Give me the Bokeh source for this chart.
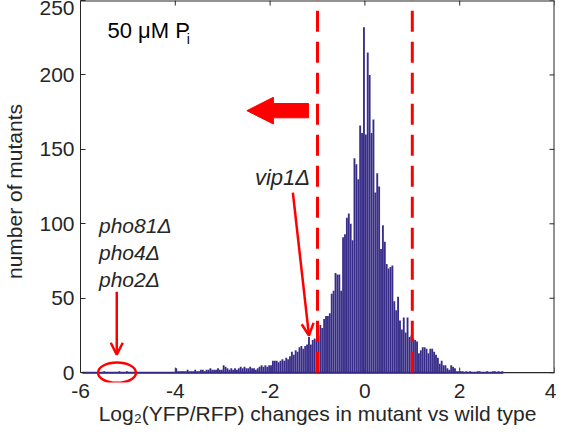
import numpy as np
from bokeh.plotting import figure
from bokeh.models import (Arrow, OpenHead, FixedTicker, Range1d, ColumnDataSource)
from bokeh.core.properties import value
from bokeh.embed import file_html
from bokeh.resources import INLINE

# ---------------- data ----------------
bin_start = -5.60
bin_width = 0.04
counts = (
    # -5.60 .. -5.00
    [0, 0, 1, 0, 0, 0, 0, 0, 0, 0, 1, 0, 0, 0, 1, 0]
    # -4.96 .. -4.04
    + [0] * 24
    # -4.00 .. -3.04
    + [3, 1, 1, 1, 1, 1, 2, 1, 1, 1, 2, 1, 1,
       2, 2, 1, 2, 2, 3, 2, 2, 2, 3, 2, 2]
    # -3.00 .. -2.00
    + [5, 4, 3, 2, 3, 2, 3, 2, 3, 4, 3, 4, 3, 3, 4, 3, 3, 2, 3, 4, 5, 4, 5, 4, 5, 5]
    # -1.96 .. -1.00
    + [8, 8, 8, 7, 8, 9, 8, 10, 9, 11, 14, 12, 15, 14, 17, 18, 16, 18, 19, 24,
       19, 22, 23, 22, 25]
    # -0.96 .. -0.04
    + [32, 30, 36, 38, 38, 40, 53, 55, 67, 66, 66, 55, 91, 93, 104, 107, 100, 89,
       144, 140, 130, 166, 161, 232]
    # 0.00 .. 0.96
    + [160, 215, 200, 161, 170, 121, 134, 125, 83, 99, 88, 73, 70, 71, 72, 48, 42,
       51, 35, 29, 37, 27, 37, 24, 25]
    # 1.00 .. 2.88
    + [23, 22, 21, 13, 15, 17, 17, 16, 13, 16, 16, 14, 12, 10, 6, 8, 5, 5, 3, 2,
       5, 4, 3, 1, 1, 1, 1, 0, 1, 0, 1, 0, 0, 0, 1, 1, 0, 0, 0, 1, 0, 0, 1, 1, 0,
       1, 0, 1]
)
hist_span = (-5.96, 2.92)
x_lo, x_hi = -6, 4
y_lo, y_hi = 0, 250
y_pad = -6.6            # room below zero for the circle annotation
x_ticks = [-6, -4, -2, 0, 2, 4]
y_ticks = [0, 50, 100, 150, 200, 250]
thresholds = [-1.0, 1.0]

# annotation geometry (data units)
title_pos = (-5.43, 230)
sub_pos = (-3.76, 224)
vip_label_pos = (-2.32, 131)
vip_arrow = (-1.52, 121, -1.18, 25)
pho_labels = ["pho81\u0394", "pho4\u0394", "pho2\u0394"]
pho_label_x = -5.61
pho_label_y = [98.6, 80.8, 62.8]
pho_arrow = (-5.235, 54.4, -5.235, 12.0)
circle_center = (-5.23, 0.0)
circle_size = (0.80, 13.6)
big_arrow = dict(tip=-2.49, neck=-1.93, tail=-1.19, y=176.0, body=4.8, head=9.0)
tick_len_y = 3.4
tick_len_x = 0.106

BAR = "#352a87"
RED = "#ff0000"
DARK = "#262626"
FONT = "Liberation Sans"

# ---------------- figure ----------------
p = figure(width=556, height=428, output_backend="svg", toolbar_location=None,
           x_range=Range1d(x_lo, x_hi), y_range=Range1d(y_pad, y_hi),
           min_border_left=75, min_border_right=2, min_border_top=0,
           min_border_bottom=46)
p.grid.visible = False
p.outline_line_color = None
p.background_fill_color = "white"
p.border_fill_color = "white"

# box frame (bottom at zero, top, right) and inward ticks
p.segment(x0=[x_lo, x_lo, x_hi], y0=[y_lo, y_hi, y_lo],
          x1=[x_hi, x_hi, x_hi], y1=[y_lo, y_hi, y_hi],
          line_color=DARK, line_width=[1.2, 2, 2])
p.segment(x0=x_ticks, y0=[y_lo] * len(x_ticks), x1=x_ticks,
          y1=[y_lo + tick_len_y] * len(x_ticks), line_color=DARK, line_width=1)
p.segment(x0=x_ticks, y0=[y_hi] * len(x_ticks), x1=x_ticks,
          y1=[y_hi - tick_len_y] * len(x_ticks), line_color=DARK, line_width=1)
p.segment(x0=[x_hi] * len(y_ticks), y0=y_ticks, x1=[x_hi - tick_len_x] * len(y_ticks),
          y1=y_ticks, line_color=DARK, line_width=1)

left_edges = bin_start + bin_width * np.arange(len(counts))
src = ColumnDataSource(dict(left=left_edges, right=left_edges + bin_width,
                            top=counts, bottom=[0] * len(counts)))
p.quad(left="left", right="right", top="top", bottom="bottom", source=src,
       fill_color=BAR, line_color="white", line_alpha=0.12, line_width=0.5)
p.segment(x0=[hist_span[0]], y0=[0], x1=[hist_span[1]], y1=[0],
          line_color=BAR, line_width=2)

for t in thresholds:
    p.segment(x0=[t], y0=[y_lo], x1=[t], y1=[y_hi], line_color=RED,
              line_width=3, line_dash="21 10")

# big left arrow
ba = big_arrow
p.patch(x=[ba["tip"], ba["neck"], ba["neck"], ba["tail"], ba["tail"], ba["neck"], ba["neck"]],
        y=[ba["y"], ba["y"] + ba["head"], ba["y"] + ba["body"], ba["y"] + ba["body"],
           ba["y"] - ba["body"], ba["y"] - ba["body"], ba["y"] - ba["head"]],
        fill_color=RED, line_color=RED, line_width=1)

# texts
p.text(x=[title_pos[0]], y=[title_pos[1]], text=["50 \u03bcM P"],
       text_font=value(FONT), text_font_size="22px", text_color="black",
       text_baseline="middle", text_align="left")
p.text(x=[sub_pos[0]], y=[sub_pos[1]], text=["i"],
       text_font=value(FONT), text_font_size="14px", text_color="black",
       text_baseline="middle", text_align="left")
p.text(x=[vip_label_pos[0]], y=[vip_label_pos[1]], text=["vip1\u0394"],
       text_font=value(FONT), text_font_size="22px", text_font_style="italic",
       text_color=DARK, text_baseline="middle", text_align="left")
p.text(x=[pho_label_x] * 3, y=pho_label_y, text=pho_labels,
       text_font=value(FONT), text_font_size="21px", text_font_style="italic",
       text_color=DARK, text_baseline="middle", text_align="left")

# arrows
for (x0, y0, x1, y1) in [vip_arrow, pho_arrow]:
    p.add_layout(Arrow(x_start=x0, y_start=y0, x_end=x1, y_end=y1,
                       line_color=RED, line_width=2.5,
                       end=OpenHead(size=12, line_color=RED, line_width=2.5)))

# circle around the pho mutants
p.ellipse(x=[circle_center[0]], y=[circle_center[1]], width=circle_size[0],
          height=circle_size[1], fill_alpha=0, line_color=RED, line_width=2.5)

# axes
p.xaxis.ticker = FixedTicker(ticks=x_ticks)
p.yaxis.ticker = FixedTicker(ticks=y_ticks)
p.xaxis.major_label_overrides = {t: str(t) for t in x_ticks}
p.yaxis.major_label_overrides = {t: str(t) for t in y_ticks}
p.xaxis.axis_label = "Log\u2082(YFP/RFP) changes in mutant vs wild type"
p.yaxis.axis_label = "number of mutants"
for ax in [p.xaxis[0], p.yaxis[0]]:
    ax.axis_line_color = DARK
    ax.major_tick_line_color = DARK
    ax.major_tick_in = 5
    ax.major_tick_out = 0
    ax.minor_tick_line_color = None
    ax.major_label_text_font = FONT
    ax.major_label_text_font_size = "21px"
    ax.major_label_text_color = DARK
    ax.major_label_text_line_height = 1.0
    ax.axis_label_text_font = FONT
    ax.axis_label_text_font_size = "21px"
    ax.axis_label_text_font_style = "normal"
    ax.axis_label_text_color = DARK
    ax.axis_label_text_line_height = 1.0
p.xaxis.axis_line_color = None
p.xaxis.major_tick_line_color = None
p.xaxis.major_label_standoff = 1
p.xaxis.axis_label_standoff = 1
p.yaxis.bounds = (y_lo, y_hi)
p.yaxis.major_label_standoff = 6
p.yaxis.axis_label_standoff = 10

open("out.html", "w").write(file_html(p, INLINE))
